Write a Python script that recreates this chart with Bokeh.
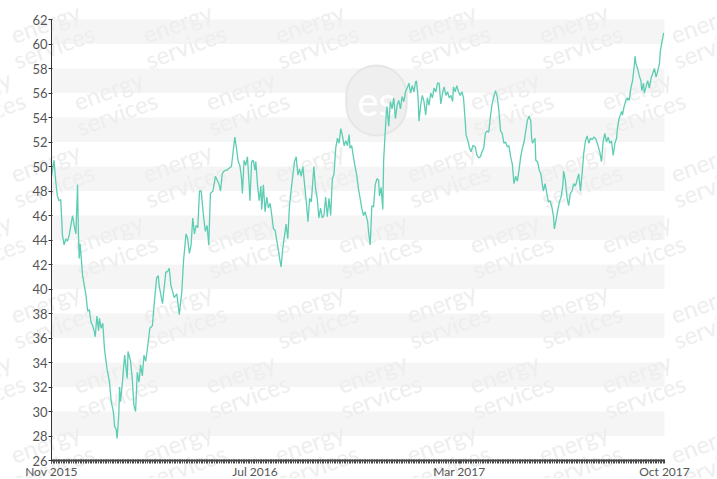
import pandas as pd
from bokeh.plotting import figure
from bokeh.models import FixedTicker, DatetimeTickFormatter, Label, Range1d
from bokeh.embed import file_html
from bokeh.resources import INLINE

start_date = "2015-11-02"
end_date = "2017-10-31"

day_offsets = [
    0, 3, 5, 7, 9, 11, 13, 15, 17, 19, 21, 23, 25, 27, 29, 31, 32, 33, 34, 37,
    39, 41, 43, 45, 47, 49, 51, 52, 54, 56, 57, 59, 61, 63, 66, 69, 71, 73, 74, 75,
    77, 78, 80, 81, 82, 84, 87, 90, 91, 94, 96, 98, 100, 102, 104, 106, 108, 110, 112, 114,
    117, 120, 122, 125, 127, 128, 132, 136, 138, 140, 142, 146, 149, 152, 155, 157, 160, 162, 164, 166,
    168, 170, 172, 174, 176, 178, 181, 183, 185, 187, 189, 192, 195, 197, 199, 201, 203, 205, 207, 209,
    210, 214, 216, 218, 220, 222, 224, 226, 227, 229, 231, 233, 235, 236, 238, 240, 242, 243, 245, 247,
    249, 250, 252, 254, 256, 258, 260, 262, 264, 266, 268, 270, 272, 273, 275, 277, 279, 281, 283, 286,
    289, 291, 293, 295, 297, 299, 301, 303, 305, 307, 309, 312, 314, 316, 318, 320, 322, 324, 326, 328,
    330, 332, 334, 336, 338, 340, 342, 344, 346, 348, 350, 352, 354, 355, 357, 359, 361, 363, 365, 367,
    369, 371, 373, 376, 377, 379, 381, 383, 385, 387, 389, 390, 392, 394, 395, 397, 398, 399, 401, 403,
    405, 407, 409, 411, 413, 415, 417, 419, 421, 423, 425, 427, 429, 431, 433, 434, 436, 437, 439, 441,
    443, 445, 447, 449, 451, 453, 455, 457, 459, 461, 463, 465, 467, 469, 471, 473, 475, 477, 478, 480,
    482, 484, 486, 488, 490, 492, 493, 496, 497, 499, 501, 504, 506, 508, 510, 512, 514, 516, 518, 520,
    522, 524, 526, 528, 530, 532, 534, 536, 538, 540, 542, 544, 546, 548, 550, 552, 554, 556, 558, 560,
    562, 564, 566, 568, 570, 571, 572, 575, 576, 578, 580, 582, 584, 585, 587, 589, 591, 593, 595, 597,
    598, 600, 602, 604, 606, 608, 609, 611, 613, 615, 617, 619, 621, 623, 625, 627, 629, 631, 633, 635,
    637, 639, 641, 643, 645, 647, 650, 652, 654, 656, 658, 660, 662, 664, 666, 668, 670, 672, 673, 675,
    678, 679, 681, 683, 685, 687, 689, 691, 693, 694, 695, 697, 699, 701, 702, 704, 705, 707, 709, 711,
    713, 715, 717, 719, 721, 723, 724, 726, 728,
]

prices = [
    49.2, 50.5, 48.8, 47.6, 47.2, 47.3, 44.4, 43.6, 44.1, 43.9, 44.4, 45.2, 46.0, 45.2, 44.5, 48.5, 44.5, 42.5, 43.7, 41.1,
    40.3, 39.5, 38.2, 38.3, 37.3, 37.0, 36.5, 36.1, 37.8, 36.6, 37.6, 36.8, 37.2, 35.1, 33.5, 32.4, 30.8, 30.2, 29.7, 28.8,
    28.5, 27.8, 29.7, 32.0, 30.8, 32.1, 34.6, 32.7, 34.9, 34.1, 32.7, 30.5, 30.0, 33.2, 32.4, 33.8, 32.9, 34.6, 34.1, 35.1,
    36.8, 37.0, 38.7, 40.9, 41.1, 40.3, 38.8, 41.4, 41.4, 41.7, 40.3, 39.3, 39.6, 37.9, 39.8, 42.3, 44.5, 44.1, 42.9, 43.6,
    45.8, 44.5, 45.2, 45.0, 48.0, 48.0, 45.8, 44.7, 45.2, 43.6, 47.8, 48.0, 49.2, 48.9, 48.6, 48.0, 49.4, 49.6, 49.7, 49.7,
    49.8, 50.0, 51.2, 52.4, 51.5, 50.4, 50.1, 49.0, 47.8, 50.5, 50.1, 50.8, 48.6, 47.2, 50.4, 50.5, 49.7, 50.4, 48.5, 47.2,
    48.4, 46.5, 48.5, 46.3, 47.5, 46.6, 47.0, 46.0, 44.9, 44.8, 43.9, 43.1, 42.2, 41.8, 43.3, 44.3, 45.3, 44.1, 46.8, 48.7,
    50.4, 50.8, 49.3, 49.8, 49.2, 50.0, 48.5, 47.1, 45.5, 47.4, 47.1, 50.0, 48.2, 47.4, 45.8, 46.6, 45.8, 46.0, 47.5, 45.9,
    47.4, 46.0, 49.0, 49.4, 51.5, 52.3, 51.9, 53.1, 52.5, 51.7, 52.1, 51.7, 52.6, 51.5, 51.7, 50.8, 50.0, 49.3, 48.2, 47.4,
    46.6, 46.0, 46.3, 45.5, 44.7, 43.6, 46.8, 46.7, 48.5, 49.0, 48.9, 47.6, 48.3, 46.5, 50.5, 53.0, 54.2, 54.9, 53.3, 55.3,
    54.7, 55.6, 53.9, 55.0, 55.4, 54.7, 55.7, 55.3, 56.1, 56.4, 56.8, 56.0, 56.6, 56.1, 56.9, 57.0, 55.6, 53.7, 55.0, 55.8,
    55.3, 54.2, 55.6, 55.0, 56.0, 55.6, 56.4, 56.1, 56.8, 56.8, 55.1, 56.0, 56.5, 55.8, 56.1, 55.6, 55.8, 55.3, 56.5, 56.1,
    56.6, 56.1, 55.8, 56.1, 55.6, 53.7, 52.6, 51.9, 51.5, 51.2, 51.7, 51.6, 50.9, 50.7, 50.8, 51.2, 51.5, 52.7, 52.9, 52.8,
    54.1, 55.1, 55.7, 56.2, 55.7, 54.6, 52.9, 52.7, 51.9, 52.0, 51.6, 51.7, 50.8, 50.2, 48.6, 49.2, 48.8, 49.7, 50.8, 51.5,
    52.0, 52.9, 53.8, 54.1, 53.7, 52.3, 51.9, 52.3, 50.5, 50.4, 49.7, 49.4, 48.4, 48.0, 48.6, 47.8, 47.1, 47.2, 46.7, 45.9,
    44.9, 45.6, 46.4, 47.1, 47.5, 48.4, 49.6, 48.9, 47.5, 46.8, 47.8, 48.0, 48.6, 48.4, 48.9, 49.4, 48.0, 49.4, 51.1, 52.1,
    52.5, 51.9, 52.3, 52.2, 52.4, 52.3, 51.7, 51.2, 50.4, 52.0, 52.7, 52.0, 52.4, 51.9, 52.1, 50.9, 51.9, 52.3, 53.1, 53.9,
    54.5, 54.2, 54.9, 55.4, 55.6, 55.4, 56.4, 57.0, 58.2, 59.0, 58.4, 58.0, 57.4, 57.0, 56.2, 56.8, 56.0, 56.5, 57.0, 56.4,
    57.2, 57.6, 58.0, 57.3, 57.8, 58.4, 59.4, 60.2, 60.9,
]

y_ticks = list(range(26, 63, 2))
x_tick_dates = ["2015-11-02", "2016-07-01", "2017-03-01", "2017-10-31"]

dates = pd.to_datetime(start_date) + pd.to_timedelta(day_offsets, unit="D")
t0, t1 = pd.Timestamp(start_date), pd.Timestamp(end_date)


def to_ms(ts):
    return pd.Timestamp(ts).value / 1e6


# layout: the frame fills the whole canvas; axes sit at fixed data locations
W, H = 716, 478
plot_left, plot_right = 51, 664      # canvas px of the x-range ends
plot_top, plot_bottom = 19, 460      # canvas px of y = 62 and y = 26
y_lo, y_hi = y_ticks[0], y_ticks[-1]
days_per_px = (t1 - t0) / (plot_right - plot_left)
val_per_px = (y_hi - y_lo) / (plot_bottom - plot_top)

p = figure(
    width=W, height=H,
    x_axis_type="datetime",
    x_range=Range1d(t0 - days_per_px * plot_left, t1 + days_per_px * (W - plot_right)),
    y_range=Range1d(y_lo - val_per_px * (H - plot_bottom), y_hi + val_per_px * plot_top),
    output_backend="svg", toolbar_location=None,
    min_border=0,
    background_fill_color="white", border_fill_color="white",
)
p.outline_line_color = None
p.xgrid.visible = False
p.ygrid.visible = False

# alternating background bands across the plotting area
p.quad(left=t0, right=t1, bottom=y_ticks[1::2], top=y_ticks[2::2],
       fill_color="#f5f5f5", line_color=None, level="image")

# y axis
p.yaxis.fixed_location = to_ms(t0)
p.yaxis.bounds = (y_lo, y_hi)
p.yaxis.ticker = FixedTicker(ticks=y_ticks)
p.yaxis.axis_line_color = "#333333"
p.yaxis.major_tick_line_color = "#333333"
p.yaxis.major_tick_out = 3
p.yaxis.major_tick_in = 1
p.yaxis.minor_tick_line_color = None
p.yaxis.major_label_standoff = 1
p.yaxis.major_label_text_font = "Lato"
p.yaxis.major_label_text_font_size = "13px"
p.yaxis.major_label_text_color = "#555555"
p.yaxis.level = "overlay"

# x axis
minor = [t.value / 1e6 for t in pd.date_range(start_date, end_date, freq="2D")]
p.xaxis.fixed_location = y_lo
p.xaxis.bounds = (to_ms(t0), to_ms(t1))
p.xaxis.ticker = FixedTicker(ticks=[to_ms(d) for d in x_tick_dates], minor_ticks=minor)
fmt = "%b %Y"
p.xaxis.formatter = DatetimeTickFormatter(
    milliseconds=fmt, seconds=fmt, minsec=fmt, minutes=fmt, hourmin=fmt, hours=fmt,
    days=fmt, months=fmt, years=fmt,
)
p.xaxis.axis_line_color = "#444444"
p.xaxis.axis_line_width = 2
p.xaxis.major_tick_line_color = "#444444"
p.xaxis.major_tick_out = 3
p.xaxis.major_tick_in = 1
p.xaxis.minor_tick_line_color = "#4a4a4a"
p.xaxis.minor_tick_out = 3
p.xaxis.minor_tick_in = 1
p.xaxis.major_label_standoff = 0
p.xaxis.major_label_text_font = "Lato"
p.xaxis.major_label_text_font_size = "12px"
p.xaxis.major_label_text_color = "#555555"
p.xaxis.level = "overlay"

# watermarks (screen units relative to the canvas bottom-left)
row_a_x = [49, 181, 313, 445, 577, 709]
row_b_x = [-20, 112, 244, 376, 508, 640]
row_y = [444, 377, 305, 234, 164, 94, 24]
for i, sy in enumerate(row_y):
    xs = row_a_x if i % 2 == 0 else row_b_x
    for sx in xs:
        if i == 1 and sx == 376:
            continue
        p.add_layout(Label(
            x=sx, y=sy, x_units="screen", y_units="screen",
            text="energy\nservices", angle=20, angle_units="deg",
            text_align="center", text_baseline="middle",
            text_font="Lato", text_font_size="24px", text_color="#eeeeee",
            text_line_height=0.85,
        ))

p.add_layout(Label(
    x=376, y=378, x_units="screen", y_units="screen",
    text="es", text_align="center", text_baseline="middle",
    text_font="Lato", text_font_size="40px", text_color="#ffffff",
    background_fill_color="#efefef", border_line_color="#e6e6e6",
    border_line_width=2, padding=11, border_radius=31,
))

p.line(dates, prices, line_color="#5ccdb3", line_width=1.3, level="overlay")

open("out.html", "w").write(file_html(p, INLINE))
